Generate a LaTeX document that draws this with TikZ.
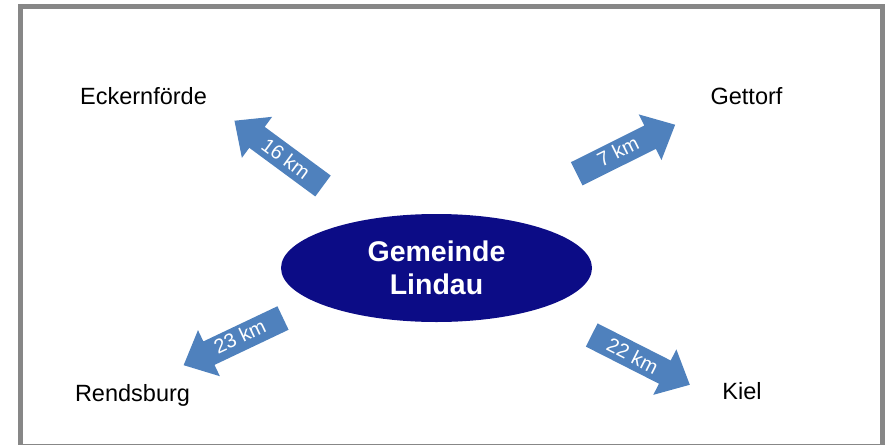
\documentclass[tikz,border=0pt]{standalone}
\usepackage{fontspec}
\setmainfont{Liberation Sans}
\usetikzlibrary{shapes.geometric}
\definecolor{framegray}{RGB}{135,135,135}
\definecolor{arrowblue}{RGB}{79,129,189}
\definecolor{navy}{RGB}{12,12,134}
\tikzset{
  citylabel/.style={anchor=base, inner sep=0pt, font=\fontsize{23.5}{28}\selectfont, text=black},
  kmlabel/.style={inner sep=0pt, font=\fontsize{20}{24}\selectfont, text=white},
  blockarrow/.style={fill=arrowblue, draw=none},
  centre/.style={ellipse, fill=navy, draw=none, minimum width=311pt, minimum height=108pt, inner sep=0pt,
    text=white, align=center, font=\bfseries\fontsize{28.5}{33.4}\selectfont},
}
\newcommand{\arrowshape}{(0,-13) -- (82,-13) -- (82,-25.5) -- (110,0) -- (82,25.5) -- (82,13) -- (0,13) -- cycle}
\begin{document}
\begin{tikzpicture}[x=1pt,y=-1pt]
\useasboundingbox (0,0) rectangle (885,444);
\draw[framegray, line width=5pt] (20,7) rectangle (882.5,446.5);

\node[centre] (lindau) at (436.5,268) {Gemeinde\\Lindau};

\node[citylabel] (eck) at (143.5,104) {Eckernförde};
\node[citylabel] (get) at (746.5,104) {Gettorf};
\node[citylabel] (ren) at (132.5,401) {Rendsburg};
\node[citylabel] (kiel) at (742,399) {Kiel};

\begin{scope}[shift={(323,186)}, rotate=143.6]
  \fill[blockarrow] \arrowshape;
  \node[kmlabel, rotate=-36.4] (a16) at (46,0) {16 km};
\end{scope}
\begin{scope}[shift={(576.7,173.8)}, rotate=26.5]
  \fill[blockarrow] \arrowshape;
  \node[kmlabel, rotate=26.5] (a7) at (47,-2) {7 km};
\end{scope}
\begin{scope}[shift={(283,318)}, rotate=205.4]
  \fill[blockarrow] \arrowshape;
  \node[kmlabel, rotate=25.4] (a23) at (47,2) {23 km};
\end{scope}
\begin{scope}[shift={(591.7,335)}, rotate=-26.9]
  \fill[blockarrow] \arrowshape;
  \node[kmlabel, rotate=-26.9] (a22) at (46,0) {22 km};
\end{scope}
\end{tikzpicture}
\end{document}
